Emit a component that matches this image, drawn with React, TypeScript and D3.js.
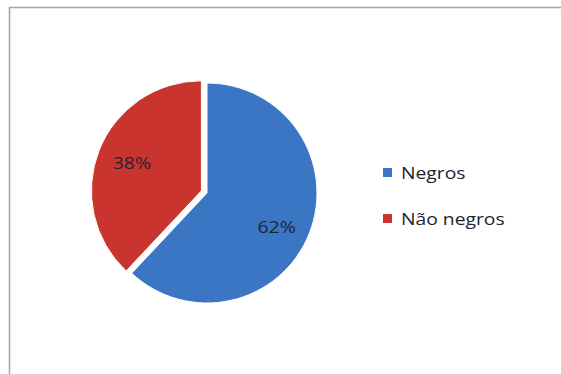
import React from "react";
import * as d3 from "d3";

const categories = ["Negros", "Não negros"];
const values = [62, 38];
const labels = ["62%", "38%"];
const colors = ["#3b76c4", "#c9342f"];
const lightColors = ["#4a86d4", "#d8403a"];

const W = 561;
const H = 374;

export default function App() {
  const cx = 207;
  const cy = 193;
  const r = 110;
  const explode = [0, 6];

  const pie = d3
    .pie<number>()
    .sort(null)
    .value((d) => d)
    .startAngle(0)
    .endAngle(2 * Math.PI);
  const arcs = pie(values);
  const arcGen = d3.arc<d3.PieArcDatum<number>>().innerRadius(0).outerRadius(r);

  return (
    <div style={{ position: "absolute", left: 0, top: 0 }}>
      <svg width={W} height={H} style={{ display: "block", background: "#ffffff" }}>
        <defs>
          {colors.map((c, i) => (
            <radialGradient key={i} id={`g${i}`} cx={cx} cy={cy} r={r} gradientUnits="userSpaceOnUse">
              <stop offset="0%" stopColor={lightColors[i]} />
              <stop offset="100%" stopColor={c} />
            </radialGradient>
          ))}
          <filter id="blur" x="-20%" y="-20%" width="140%" height="140%">
            <feGaussianBlur stdDeviation="0.5" />
          </filter>
        </defs>
        {/* chart area border (top and left visible) */}
        <line x1={9} y1={7.5} x2={W} y2={7.5} stroke="#a3a3a3" strokeWidth={1.5} />
        <line x1={9.5} y1={7} x2={9.5} y2={H} stroke="#a3a3a3" strokeWidth={1.5} />

        {arcs.map((a, i) => {
          const mid = (a.startAngle + a.endAngle) / 2;
          const ox = Math.sin(mid) * explode[i];
          const oy = -Math.cos(mid) * explode[i];
          return (
            <g key={i} transform={`translate(${cx + ox},${cy + oy})`}>
              <path
                d={arcGen(a) || ""}
                fill={colors[i]}
                stroke="#ffffff"
                strokeWidth={1}
                filter="url(#blur)"
              />
            </g>
          );
        })}

        {arcs.map((a, i) => {
          const mid = (a.startAngle + a.endAngle) / 2;
          const ox = Math.sin(mid) * explode[i];
          const oy = -Math.cos(mid) * explode[i];
          const lr = r * 0.68;
          const lx = cx + ox + Math.sin(mid) * lr;
          const ly = cy + oy - Math.cos(mid) * lr + (i === 0 ? 6 : -1);
          return (
            <text
              key={`l${i}`}
              transform={`translate(${lx},${ly}) scale(1.18,1)`}
              textAnchor="middle"
              dominantBaseline="central"
              fontFamily="'Open Sans', 'Noto Sans', sans-serif"
              fontSize={16.5}
              fill="#1e2430"
            >
              {labels[i]}
            </text>
          );
        })}

        {categories.map((c, i) => {
          const y = 173 + i * 46;
          return (
            <g key={`lg${i}`}>
              <rect x={383} y={y - 5} width={9} height={9} fill={colors[i]} />
              <text
                transform={`translate(401,${y}) scale(1.17,1)`}
                dominantBaseline="central"
                fontFamily="'Open Sans', 'Noto Sans', sans-serif"
                fontSize={16.5}
                fill="#1e2430"
              >
                {c}
              </text>
            </g>
          );
        })}
      </svg>
    </div>
  );
}
